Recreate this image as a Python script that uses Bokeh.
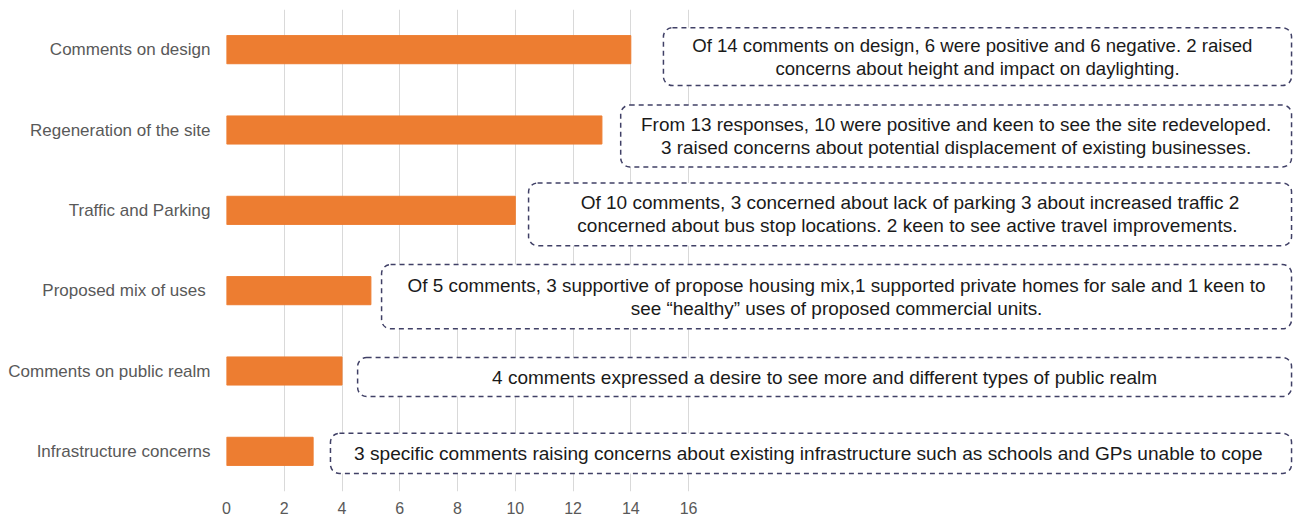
from bokeh.plotting import figure
from bokeh.models import (Range1d, FixedTicker, BoxAnnotation, LabelSet,
                          ColumnDataSource)
from bokeh.core.properties import value
from bokeh.embed import file_html
from bokeh.resources import INLINE

categories = ["Comments on design", "Regeneration of the site", "Traffic and Parking",
              "Proposed mix of uses ", "Comments on public realm", "Infrastructure concerns"]
counts = [14, 13, 10, 5, 4, 3]
notes = [
    "Of 14 comments on design, 6 were positive and 6 negative.  2  raised\nconcerns about height and impact on daylighting.",
    "From 13 responses, 10 were positive and keen to see the site redeveloped.\n3 raised concerns about potential displacement of existing businesses.",
    "Of 10 comments, 3 concerned about lack of parking 3 about increased traffic 2\nconcerned about bus stop locations.  2 keen to see active travel improvements.",
    "Of 5 comments, 3 supportive of propose housing mix,1 supported private homes for sale and 1 keen to\nsee \u201chealthy\u201d uses of proposed commercial units.",
    "4 comments expressed a desire to see more and different types of public realm",
    "3 specific comments raising concerns about existing infrastructure such as schools and GPs unable to  cope",
]
x_ticks = [0, 2, 4, 6, 8, 10, 12, 14, 16]

# annotation box layout (gap after the bar, vertical shift, height) in data units
box_gap = [1.13, 0.65, 0.46, 0.37, 0.54, 0.6]
box_shift = [0.087, 0.075, 0.05, 0.075, 0.075, 0.025]
box_height = [0.72, 0.77, 0.78, 0.8, 0.485, 0.5]
note_font_px = [18.6, 18.9, 19.0, 18.9, 19.0, 19.1]
box_right = 36.88
line_step = 0.286

ys = list(range(len(categories)))
FONT = "Liberation Sans"

p = figure(width=1300, height=522, output_backend="svg", toolbar_location=None,
           x_range=Range1d(0, 37.19), y_range=Range1d(5.5, -0.5),
           min_border_left=226, min_border_right=0, min_border_top=9,
           min_border_bottom=31)
p.outline_line_color = None
p.background_fill_color = "white"

p.hbar(y=ys, right=counts, left=0, height=0.35, color="#ED7D31")

# axes
p.xaxis.ticker = FixedTicker(ticks=x_ticks)
p.xaxis.axis_line_color = None
p.xaxis.major_tick_line_color = None
p.xaxis.major_tick_out = 0
p.xaxis.major_tick_in = 0
p.xaxis.minor_tick_line_color = None
p.xaxis.major_label_text_font = FONT
p.xaxis.major_label_text_font_size = "16px"
p.xaxis.major_label_text_color = "#595959"
p.xaxis.major_label_standoff = 10

p.yaxis.ticker = FixedTicker(ticks=ys)
p.yaxis.major_label_overrides = {i: c for i, c in enumerate(categories)}
p.yaxis.axis_line_color = None
p.yaxis.major_tick_line_color = None
p.yaxis.major_tick_out = 0
p.yaxis.major_tick_in = 0
p.yaxis.minor_tick_line_color = None
p.yaxis.major_label_text_font = FONT
p.yaxis.major_label_text_font_size = "17px"
p.yaxis.major_label_text_color = "#595959"
p.yaxis.major_label_standoff = 16

p.xgrid.ticker = FixedTicker(ticks=x_ticks)
p.xgrid.grid_line_color = "#D9D9D9"
p.ygrid.grid_line_color = None

lx, ly, lt, lf = [], [], [], []
for i, v in enumerate(counts):
    left = v + box_gap[i]
    c = i + box_shift[i]
    h = box_height[i]
    p.add_layout(BoxAnnotation(left=left, right=box_right, top=c - h / 2, bottom=c + h / 2,
                               fill_color="white", fill_alpha=1.0,
                               line_color="#404066", line_alpha=1.0, line_width=1.5,
                               line_dash="5 4", border_radius=9, level="annotation"))
    lines = notes[i].split("\n")
    n = len(lines)
    for k, t in enumerate(lines):
        lx.append((left + box_right) / 2)
        ly.append(c + (k - (n - 1) / 2) * line_step)
        lt.append(t)
        lf.append(f"{note_font_px[i]}px")

src = ColumnDataSource(dict(x=lx, y=ly, text=lt, fs=lf))
p.add_layout(LabelSet(x="x", y="y", text="text", source=src, text_align="center",
                      text_baseline="middle", text_font=value(FONT),
                      text_font_size="fs", text_color="#1A1A1A"))

open("out.html", "w").write(file_html(p, INLINE))
